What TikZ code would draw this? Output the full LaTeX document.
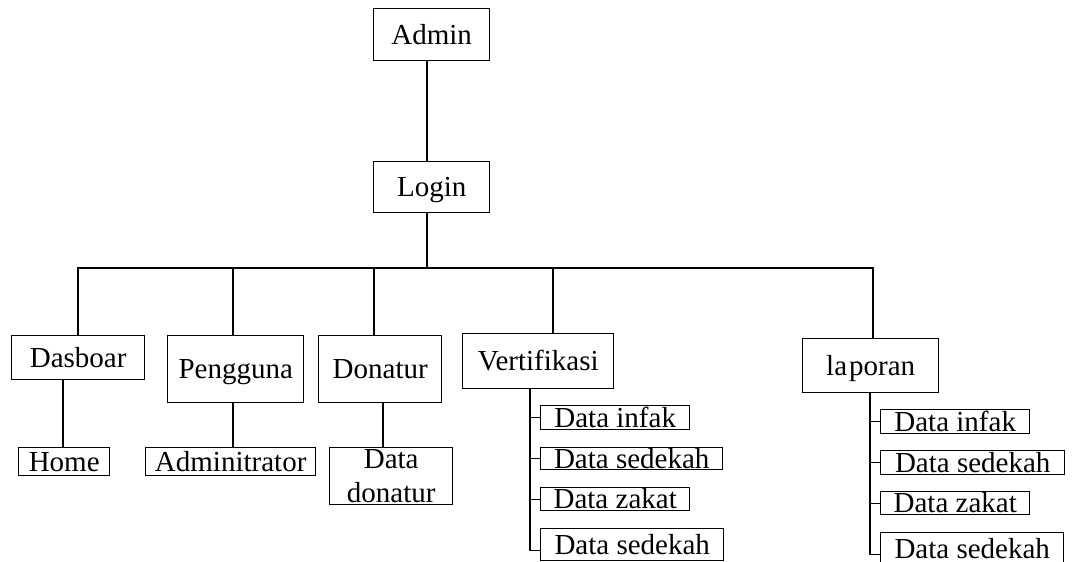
\documentclass[tikz,border=0pt]{standalone}
\usepackage{fontspec}
\setmainfont{Liberation Serif}
\begin{document}
\begin{tikzpicture}[x=1pt,y=-1pt,
  frame/.style={draw, line width=1.4pt, inner sep=0pt, anchor=north west,
                font=\fontsize{29}{34}\selectfont},
  box/.style={frame, text height=19.5pt, text depth=0pt},
  link/.style={line width=1.4pt}]
\useasboundingbox (0,0) rectangle (1074,562);
\clip (0,0) rectangle (1074,562);

% top of the tree
\node[box, minimum width=116pt, minimum height=52pt] (admin) at (373,8) {Admin};
\node[box, minimum width=116pt, minimum height=51pt] (login) at (373,161) {Login};

% menu level
\node[box, minimum width=133pt, minimum height=44pt] (dasboar)  at (11,335)  {Dasboar};
\node[box, minimum width=136pt, minimum height=67pt] (pengguna) at (167,335) {Pengguna};
\node[box, minimum width=123pt, minimum height=67pt] (donatur)  at (318,335) {Donatur};
\node[box, minimum width=151pt, minimum height=55pt] (vert)     at (462,333) {Vertifikasi};
\node[box, minimum width=136pt, minimum height=54pt] (laporan)  at (802,338) {la\kern2pt poran};

% sub menus
\node[box, minimum width=91pt,  minimum height=28pt] (home) at (18,447)  {Home};
\node[box, minimum width=170pt, minimum height=28pt] (adm)  at (145,447) {Adminitrator};
\node[frame, align=center, minimum width=123pt, minimum height=57pt] (ddon) at (329,447) {Data\\donatur};

\node[box, minimum width=149pt, minimum height=24pt] (v1) at (540,405) {Data infak};
\node[box, minimum width=182pt, minimum height=22pt] (v2) at (540,447) {Data sedekah};
\node[box, minimum width=149pt, minimum height=23pt] (v3) at (540,487) {Data zakat};
\node[box, minimum width=183pt, minimum height=32pt] (v4) at (540,528) {Data sedekah};

\node[box, minimum width=149pt, minimum height=24pt] (l1) at (880,409) {Data infak};
\node[box, minimum width=184pt, minimum height=24pt] (l2) at (880,450) {Data sedekah};
\node[box, minimum width=149pt, minimum height=23pt] (l3) at (880,491) {Data zakat};
\node[box, minimum width=183pt, minimum height=32pt] (l4) at (880,532) {Data sedekah};

% connector positions
\coordinate (spine) at (427,0);
\coordinate (d1) at (78,268);
\coordinate (d2) at (233,268);
\coordinate (d3) at (374,268);
\coordinate (d4) at (553,268);
\coordinate (d5) at (873,268);
\coordinate (c1) at (63,0);
\coordinate (c2) at (233,0);
\coordinate (c3) at (383,0);
\coordinate (c4) at (530,0);
\coordinate (c5) at (870,0);

% connectors
\draw[link] (admin.south -| spine) -- (login.north -| spine);
\draw[link] (login.south -| spine) -- (spine |- d1);
\draw[link] (d1 |- dasboar.north) -- (d1) -- (d5) -- (d5 |- laporan.north);
\draw[link] (d2) -- (d2 |- pengguna.north);
\draw[link] (d3) -- (d3 |- donatur.north);
\draw[link] (d4) -- (d4 |- vert.north);

\draw[link] (dasboar.south -| c1) -- (home.north -| c1);
\draw[link] (pengguna.south -| c2) -- (adm.north -| c2);
\draw[link] (donatur.south -| c3) -- (ddon.north -| c3);

\draw[link] (vert.south -| c4) |- ([yshift=-6pt]v4.west);
\foreach \n in {v1,v2,v3} \draw[link] (\n.west -| c4) -- (\n.west);

\draw[link] (laporan.south -| c5) |- ([yshift=-6pt]l4.west);
\foreach \n in {l1,l2,l3} \draw[link] (\n.west -| c5) -- (\n.west);
\end{tikzpicture}
\end{document}
